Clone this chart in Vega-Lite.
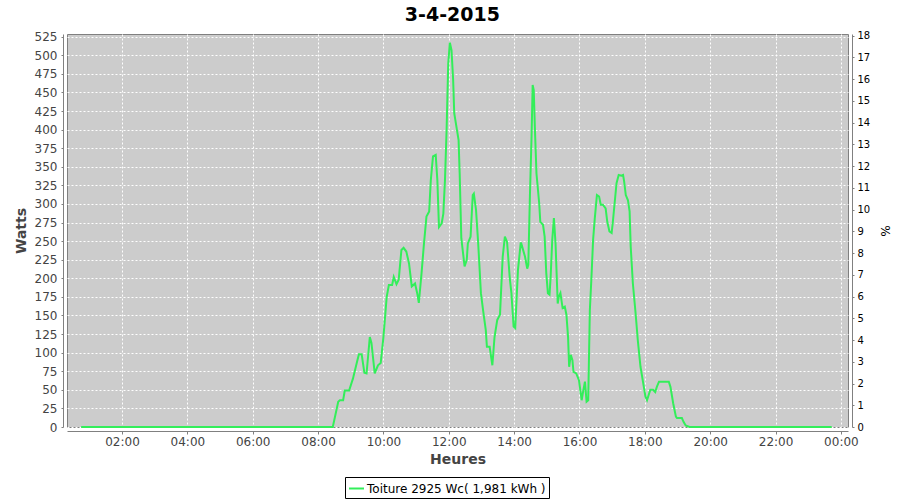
{
  "$schema": "https://vega.github.io/schema/vega-lite/v6.json",
  "autosize": "none",
  "width": 781,
  "height": 393,
  "padding": {"left": 67, "top": 34, "right": 52, "bottom": 73},
  "background": "white",
  "title": {"text": "3-4-2015", "font": "DejaVu Sans", "fontSize": 19, "fontWeight": "bold", "color": "black", "anchor": "middle", "frame": "bounds", "offset": 6},
  "config": {
    "view": {"fill": "#CCCCCC", "stroke": "#808080", "strokeWidth": 1}
  },
  "layer": [
    {
      "data": {"values": [
        {"t": "2015-04-03T00:45", "w": 0},
        {"t": "2015-04-03T08:27", "w": 0},
        {"t": "2015-04-03T08:37", "w": 34},
        {"t": "2015-04-03T08:40", "w": 36},
        {"t": "2015-04-03T08:46", "w": 36},
        {"t": "2015-04-03T08:49", "w": 49},
        {"t": "2015-04-03T08:57", "w": 49},
        {"t": "2015-04-03T09:04", "w": 65},
        {"t": "2015-04-03T09:11", "w": 86},
        {"t": "2015-04-03T09:15", "w": 98},
        {"t": "2015-04-03T09:20", "w": 98},
        {"t": "2015-04-03T09:25", "w": 73},
        {"t": "2015-04-03T09:29", "w": 72},
        {"t": "2015-04-03T09:35", "w": 121},
        {"t": "2015-04-03T09:38", "w": 113},
        {"t": "2015-04-03T09:44", "w": 72},
        {"t": "2015-04-03T09:50", "w": 83},
        {"t": "2015-04-03T09:55", "w": 86},
        {"t": "2015-04-03T10:00", "w": 121},
        {"t": "2015-04-03T10:06", "w": 175},
        {"t": "2015-04-03T10:10", "w": 191},
        {"t": "2015-04-03T10:16", "w": 191},
        {"t": "2015-04-03T10:19", "w": 202},
        {"t": "2015-04-03T10:24", "w": 192},
        {"t": "2015-04-03T10:28", "w": 198},
        {"t": "2015-04-03T10:33", "w": 238},
        {"t": "2015-04-03T10:37", "w": 241},
        {"t": "2015-04-03T10:42", "w": 236},
        {"t": "2015-04-03T10:47", "w": 220},
        {"t": "2015-04-03T10:52", "w": 189},
        {"t": "2015-04-03T10:58", "w": 193},
        {"t": "2015-04-03T11:02", "w": 180},
        {"t": "2015-04-03T11:05", "w": 167},
        {"t": "2015-04-03T11:10", "w": 207},
        {"t": "2015-04-03T11:14", "w": 243},
        {"t": "2015-04-03T11:19", "w": 283},
        {"t": "2015-04-03T11:24", "w": 290},
        {"t": "2015-04-03T11:27", "w": 332},
        {"t": "2015-04-03T11:31", "w": 364},
        {"t": "2015-04-03T11:36", "w": 366},
        {"t": "2015-04-03T11:39", "w": 332},
        {"t": "2015-04-03T11:42", "w": 269},
        {"t": "2015-04-03T11:47", "w": 274},
        {"t": "2015-04-03T11:50", "w": 287},
        {"t": "2015-04-03T11:53", "w": 332},
        {"t": "2015-04-03T11:56", "w": 400},
        {"t": "2015-04-03T11:59", "w": 489},
        {"t": "2015-04-03T12:02", "w": 517},
        {"t": "2015-04-03T12:05", "w": 507},
        {"t": "2015-04-03T12:08", "w": 467},
        {"t": "2015-04-03T12:10", "w": 422},
        {"t": "2015-04-03T12:14", "w": 404},
        {"t": "2015-04-03T12:18", "w": 386},
        {"t": "2015-04-03T12:20", "w": 341},
        {"t": "2015-04-03T12:23", "w": 254},
        {"t": "2015-04-03T12:29", "w": 216},
        {"t": "2015-04-03T12:33", "w": 225},
        {"t": "2015-04-03T12:35", "w": 247},
        {"t": "2015-04-03T12:40", "w": 256},
        {"t": "2015-04-03T12:44", "w": 312},
        {"t": "2015-04-03T12:46", "w": 314},
        {"t": "2015-04-03T12:50", "w": 292},
        {"t": "2015-04-03T12:54", "w": 247},
        {"t": "2015-04-03T12:59", "w": 180},
        {"t": "2015-04-03T13:03", "w": 157},
        {"t": "2015-04-03T13:08", "w": 130},
        {"t": "2015-04-03T13:10", "w": 108},
        {"t": "2015-04-03T13:15", "w": 108},
        {"t": "2015-04-03T13:20", "w": 83},
        {"t": "2015-04-03T13:24", "w": 121},
        {"t": "2015-04-03T13:29", "w": 144},
        {"t": "2015-04-03T13:34", "w": 151},
        {"t": "2015-04-03T13:39", "w": 229},
        {"t": "2015-04-03T13:43", "w": 256},
        {"t": "2015-04-03T13:47", "w": 249},
        {"t": "2015-04-03T13:52", "w": 200},
        {"t": "2015-04-03T13:55", "w": 180},
        {"t": "2015-04-03T13:59", "w": 135},
        {"t": "2015-04-03T14:02", "w": 133},
        {"t": "2015-04-03T14:07", "w": 211},
        {"t": "2015-04-03T14:12", "w": 247},
        {"t": "2015-04-03T14:13", "w": 247},
        {"t": "2015-04-03T14:20", "w": 229},
        {"t": "2015-04-03T14:24", "w": 213},
        {"t": "2015-04-03T14:26", "w": 218},
        {"t": "2015-04-03T14:29", "w": 312},
        {"t": "2015-04-03T14:32", "w": 391},
        {"t": "2015-04-03T14:34", "w": 460},
        {"t": "2015-04-03T14:36", "w": 453},
        {"t": "2015-04-03T14:38", "w": 404},
        {"t": "2015-04-03T14:41", "w": 341},
        {"t": "2015-04-03T14:46", "w": 301},
        {"t": "2015-04-03T14:48", "w": 276},
        {"t": "2015-04-03T14:53", "w": 272},
        {"t": "2015-04-03T14:56", "w": 256},
        {"t": "2015-04-03T14:59", "w": 207},
        {"t": "2015-04-03T15:02", "w": 180},
        {"t": "2015-04-03T15:05", "w": 178},
        {"t": "2015-04-03T15:07", "w": 202},
        {"t": "2015-04-03T15:10", "w": 252},
        {"t": "2015-04-03T15:13", "w": 281},
        {"t": "2015-04-03T15:16", "w": 247},
        {"t": "2015-04-03T15:20", "w": 166},
        {"t": "2015-04-03T15:22", "w": 175},
        {"t": "2015-04-03T15:25", "w": 180},
        {"t": "2015-04-03T15:29", "w": 160},
        {"t": "2015-04-03T15:33", "w": 162},
        {"t": "2015-04-03T15:36", "w": 151},
        {"t": "2015-04-03T15:39", "w": 121},
        {"t": "2015-04-03T15:41", "w": 81},
        {"t": "2015-04-03T15:44", "w": 97},
        {"t": "2015-04-03T15:47", "w": 90},
        {"t": "2015-04-03T15:49", "w": 74},
        {"t": "2015-04-03T15:54", "w": 72},
        {"t": "2015-04-03T15:59", "w": 63},
        {"t": "2015-04-03T16:04", "w": 36},
        {"t": "2015-04-03T16:06", "w": 45},
        {"t": "2015-04-03T16:10", "w": 61},
        {"t": "2015-04-03T16:13", "w": 34},
        {"t": "2015-04-03T16:16", "w": 36},
        {"t": "2015-04-03T16:19", "w": 157},
        {"t": "2015-04-03T16:22", "w": 202},
        {"t": "2015-04-03T16:25", "w": 252},
        {"t": "2015-04-03T16:28", "w": 280},
        {"t": "2015-04-03T16:32", "w": 312},
        {"t": "2015-04-03T16:36", "w": 310},
        {"t": "2015-04-03T16:39", "w": 299},
        {"t": "2015-04-03T16:43", "w": 299},
        {"t": "2015-04-03T16:48", "w": 294},
        {"t": "2015-04-03T16:51", "w": 276},
        {"t": "2015-04-03T16:55", "w": 263},
        {"t": "2015-04-03T16:59", "w": 261},
        {"t": "2015-04-03T17:01", "w": 274},
        {"t": "2015-04-03T17:05", "w": 305},
        {"t": "2015-04-03T17:08", "w": 328},
        {"t": "2015-04-03T17:12", "w": 339},
        {"t": "2015-04-03T17:17", "w": 338},
        {"t": "2015-04-03T17:20", "w": 339},
        {"t": "2015-04-03T17:22", "w": 330},
        {"t": "2015-04-03T17:25", "w": 312},
        {"t": "2015-04-03T17:29", "w": 305},
        {"t": "2015-04-03T17:32", "w": 290},
        {"t": "2015-04-03T17:34", "w": 243},
        {"t": "2015-04-03T17:38", "w": 193},
        {"t": "2015-04-03T17:43", "w": 153},
        {"t": "2015-04-03T17:47", "w": 117},
        {"t": "2015-04-03T17:52", "w": 81},
        {"t": "2015-04-03T17:57", "w": 59},
        {"t": "2015-04-03T18:01", "w": 41},
        {"t": "2015-04-03T18:04", "w": 36},
        {"t": "2015-04-03T18:07", "w": 43},
        {"t": "2015-04-03T18:10", "w": 50},
        {"t": "2015-04-03T18:15", "w": 50},
        {"t": "2015-04-03T18:19", "w": 47},
        {"t": "2015-04-03T18:22", "w": 54},
        {"t": "2015-04-03T18:26", "w": 61},
        {"t": "2015-04-03T18:40", "w": 61},
        {"t": "2015-04-03T18:44", "w": 61},
        {"t": "2015-04-03T18:47", "w": 54},
        {"t": "2015-04-03T18:52", "w": 32},
        {"t": "2015-04-03T18:57", "w": 14},
        {"t": "2015-04-03T18:59", "w": 12},
        {"t": "2015-04-03T19:08", "w": 12},
        {"t": "2015-04-03T19:11", "w": 7},
        {"t": "2015-04-03T19:15", "w": 2},
        {"t": "2015-04-03T19:22", "w": 0},
        {"t": "2015-04-03T23:43", "w": 0}
      ]},
      "mark": {"type": "line", "strokeWidth": 2},
      "encoding": {
        "x": {
          "field": "t", "type": "temporal",
          "scale": {"domain": [{"year": 2015, "month": 4, "date": 3, "hours": 0, "minutes": 19}, {"year": 2015, "month": 4, "date": 4, "hours": 0, "minutes": 13}], "nice": false},
          "axis": {
            "title": "Heures", "format": "%H:%M",
            "values": [
              {"year": 2015, "month": 4, "date": 3, "hours": 2},
              {"year": 2015, "month": 4, "date": 3, "hours": 4},
              {"year": 2015, "month": 4, "date": 3, "hours": 6},
              {"year": 2015, "month": 4, "date": 3, "hours": 8},
              {"year": 2015, "month": 4, "date": 3, "hours": 10},
              {"year": 2015, "month": 4, "date": 3, "hours": 12},
              {"year": 2015, "month": 4, "date": 3, "hours": 14},
              {"year": 2015, "month": 4, "date": 3, "hours": 16},
              {"year": 2015, "month": 4, "date": 3, "hours": 18},
              {"year": 2015, "month": 4, "date": 3, "hours": 20},
              {"year": 2015, "month": 4, "date": 3, "hours": 22},
              {"year": 2015, "month": 4, "date": 4, "hours": 0}
            ],
            "offset": 4, "domainColor": "#808080", "tickColor": "#808080", "tickSize": 3,
            "labelFont": "DejaVu Sans", "labelFontSize": 12, "labelColor": "#444444", "labelPadding": 2,
            "labelFlush": false,
            "titleFont": "DejaVu Sans", "titleFontSize": 14, "titleFontWeight": "bold", "titleColor": "#444444", "titlePadding": 5,
            "grid": true, "gridColor": "#FFFFFF", "gridDash": [2, 2], "gridWidth": 1
          }
        },
        "y": {
          "field": "w", "type": "quantitative",
          "scale": {"domain": [0, 528.6], "nice": false},
          "axis": {
            "title": "Watts", "orient": "left",
            "values": [0, 25, 50, 75, 100, 125, 150, 175, 200, 225, 250, 275, 300, 325, 350, 375, 400, 425, 450, 475, 500, 525],
            "offset": 4, "domainColor": "#808080", "tickColor": "#808080", "tickSize": 2,
            "labelFont": "DejaVu Sans", "labelFontSize": 12, "labelColor": "#444444", "labelPadding": 4,
            "labelFlush": false,
            "titleFont": "DejaVu Sans", "titleFontSize": 14, "titleFontWeight": "bold", "titleColor": "#444444", "titlePadding": 6,
            "grid": true, "gridColor": "#FFFFFF", "gridDash": [2, 2], "gridWidth": 1
          }
        },
        "color": {
          "datum": "Toiture 2925 Wc( 1,981 kWh )",
          "type": "nominal",
          "scale": {"range": ["#33EE5A"]},
          "legend": {
            "title": null, "orient": "none", "legendX": 278, "legendY": 443,
            "symbolType": "stroke", "symbolSize": 225, "symbolStrokeWidth": 2,
            "labelFont": "DejaVu Sans", "labelFontSize": 12, "labelColor": "black", "labelOffset": 2, "labelLimit": 400,
            "strokeColor": "black", "padding": 3, "fillColor": "white"
          }
        }
      }
    },
    {
      "data": {"values": [{"p": 0}]},
      "mark": {"type": "rule", "opacity": 0},
      "encoding": {
        "y": {
          "field": "p", "type": "quantitative",
          "scale": {"domain": [0, 18.08], "nice": false},
          "axis": {
            "title": "%", "orient": "right",
            "values": [0, 1, 2, 3, 4, 5, 6, 7, 8, 9, 10, 11, 12, 13, 14, 15, 16, 17, 18],
            "offset": 4, "domainColor": "#808080", "tickColor": "#808080", "tickSize": 2,
            "labelFont": "DejaVu Sans", "labelFontSize": 10, "labelColor": "black", "labelPadding": 3,
            "labelFlush": false,
            "titleFont": "DejaVu Sans", "titleFontSize": 12, "titleFontWeight": "normal", "titleColor": "black", "titlePadding": 8,
            "grid": false
          }
        }
      }
    }
  ],
  "resolve": {"scale": {"y": "independent"}}
}
